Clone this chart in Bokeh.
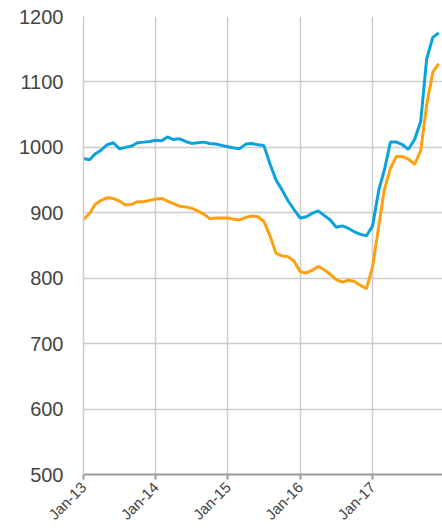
import pandas as pd
import numpy as np
from bokeh.plotting import figure
from bokeh.models import Range1d, FixedTicker, DatetimeTickFormatter, Label
from bokeh.embed import file_html
from bokeh.resources import INLINE

months = pd.date_range("2013-01-01", "2017-12-01", freq="MS")

blue_values = [
    983, 981, 990, 996, 1004, 1007, 998, 1000, 1002, 1007, 1008, 1009,
    1011, 1010, 1016, 1012, 1013, 1009, 1006, 1007, 1008, 1006, 1005, 1003,
    1001, 999, 998, 1005, 1006, 1004, 1003, 975, 950, 935, 918, 905,
    892, 894, 899, 903, 896, 889, 878, 880, 876, 871, 867, 865,
    880, 935, 965, 1008, 1008, 1004, 997, 1012, 1040, 1135, 1168, 1175,
]
orange_values = [
    890, 899, 913, 919, 923, 922, 918, 912, 913, 917, 917, 919,
    921, 922, 918, 914, 910, 909, 907, 903, 898, 891, 892, 892,
    892, 890, 889, 893, 895, 894, 887, 865, 838, 834, 833, 826,
    810, 808, 812, 818, 813, 806, 798, 794, 797, 795, 789, 784,
    818, 880, 935, 968, 986, 986, 982, 974, 995, 1065, 1115, 1128,
]
y_ticks = [500, 600, 700, 800, 900, 1000, 1100, 1200]
x_tick_dates = pd.to_datetime(["2013-01-01", "2014-01-01", "2015-01-01", "2016-01-01", "2017-01-01"])
unit_title = "USD /t.c.m."

p = figure(
    width=442, height=531,
    output_backend="svg", toolbar_location=None,
    x_axis_type="datetime",
    min_border_left=83, min_border_right=0, min_border_top=16, min_border_bottom=54,
)
p.x_range = Range1d(pd.Timestamp("2013-01-01"), pd.Timestamp("2017-12-20"))
p.y_range = Range1d(500, 1200)
p.outline_line_color = None

p.line(months, blue_values, line_color="#0aa2dc", line_width=3)
p.line(months, orange_values, line_color="#ffa010", line_width=3)

p.add_layout(Label(
    x=pd.Timestamp("2013-01-01"), y=1200, x_offset=-60, y_offset=11,
    text=unit_title, text_font="Liberation Sans", text_font_style="bold",
    text_font_size="20px", text_color="#444444", text_baseline="alphabetic",
))

ms = [t.value // 10**6 for t in x_tick_dates]
p.xaxis.ticker = FixedTicker(ticks=ms)
p.xaxis.formatter = DatetimeTickFormatter(years="%b-%y", months="%b-%y", days="%b-%y", hours="%b-%y")
p.xaxis.major_label_orientation = np.pi / 4
p.xaxis.major_label_text_font = "Liberation Sans"
p.xaxis.major_label_text_font_size = "15px"
p.xaxis.major_label_text_color = "#444444"
p.xaxis.axis_line_color = "#9a9a9a"
p.xaxis.axis_line_width = 2
p.xaxis.major_tick_line_color = "#9a9a9a"
p.xaxis.major_tick_line_width = 2
p.xaxis.major_tick_out = 5
p.xaxis.major_tick_in = 0
p.xaxis.minor_tick_line_color = None

p.yaxis.ticker = FixedTicker(ticks=y_ticks)
p.yaxis.major_label_text_font = "Liberation Sans"
p.yaxis.major_label_text_font_size = "20px"
p.yaxis.major_label_text_color = "#444444"
p.yaxis.axis_line_color = "#cccccc"
p.yaxis.axis_line_width = 1.5
p.yaxis.major_tick_line_color = None
p.yaxis.minor_tick_line_color = None
p.yaxis.major_tick_out = 0
p.yaxis.major_label_standoff = 20

p.xgrid.grid_line_color = "#cccccc"
p.xgrid.grid_line_width = 1.5
p.ygrid.grid_line_color = "#cccccc"
p.ygrid.grid_line_width = 1.5

open("out.html", "w").write(file_html(p, INLINE))
